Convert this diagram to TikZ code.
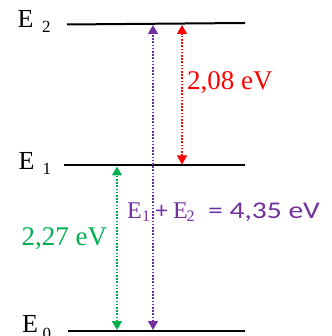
\documentclass[tikz,border=0pt]{standalone}
\usepackage{fontspec}
\setmainfont{Liberation Serif}
\newfontfamily\calib{Carlito}
\usetikzlibrary{arrows.meta}
\definecolor{myred}{RGB}{255,0,0}
\definecolor{mygreen}{RGB}{0,176,80}
\definecolor{mypurple}{RGB}{112,48,160}
\newcommand{\at}[2]{\makebox[0pt][l]{\hspace{#1pt}#2}}
\newcommand{\sub}[2][-4.5pt]{\raisebox{#1}{\fontsize{17}{17}\selectfont #2}}
\tikzset{
  level/.style={line width=2pt, black},
  trans/.style={line width=1.6pt, dash pattern=on 1.6pt off 1.6pt,
    {Triangle[width=10pt,length=9pt]}-{Triangle[width=10pt,length=9pt]}, shorten <=1pt, shorten >=1pt},
  lvllabel/.style={anchor=base west, inner sep=0pt, font=\fontsize{26}{26}\selectfont},
  elabel/.style={anchor=base west, inner sep=0pt, font=\fontsize{27}{27}\selectfont},
}
\begin{document}
\begin{tikzpicture}[x=1pt,y=-1pt]
\useasboundingbox (0,0) rectangle (331,336);
\clip (0,0) rectangle (331,336);
% levels
\coordinate (e2l) at (67,24.5); \coordinate (e2r) at (245,23);
\coordinate (e1l) at (64,165.5); \coordinate (e1r) at (245,165.5);
\coordinate (e0l) at (68,331); \coordinate (e0r) at (245,331);
\draw[level] (e2l) -- (e2r);
\draw[level] (e1l) -- (e1r);
\draw[level] (e0l) -- (e0r);
% labels
\node[lvllabel] (le2) at (17,28) {\at{0}{E}\at{24.5}{\sub{2}}};
\node[lvllabel] (le1) at (18,170) {\at{0}{E}\at{24}{\sub{1}}};
\node[lvllabel] (le0) at (21.5,332) {\at{0}{E}\at{20.5}{\sub[-7.5pt]{0}}};
% arrow endpoints
\coordinate (pt) at (153,24); \coordinate (pb) at (153,331);
\coordinate (rt) at (182,24); \coordinate (rb) at (182,165.5);
\coordinate (gt) at (117,165.5); \coordinate (gb) at (117,331);
\draw[trans, mypurple] (pb) -- (pt);
\draw[trans, myred] (rb) -- (rt);
\draw[trans, mygreen] (gb) -- (gt);
% energy labels
\node[elabel, text=myred] (l208) at (187,90) {2,08 eV};
\node[elabel, text=mygreen] (l227) at (21.5,245) {2,27 eV};
\node[anchor=base west, inner sep=0pt, text=mypurple, font=\fontsize{24}{24}\selectfont] (lsum) at (127,218)
  {\at{0}{E}\at{15}{\raisebox{-3.5pt}{\fontsize{16}{16}\selectfont 1}}\at{28.5}{\calib +}\at{46}{E}\at{59.5}{\raisebox{-3.5pt}{\fontsize{16}{16}\selectfont 2}}\at{81}{\calib\scalebox{1.23}[1]{= 4,35 eV}}\phantom{E}};
\end{tikzpicture}
\end{document}
